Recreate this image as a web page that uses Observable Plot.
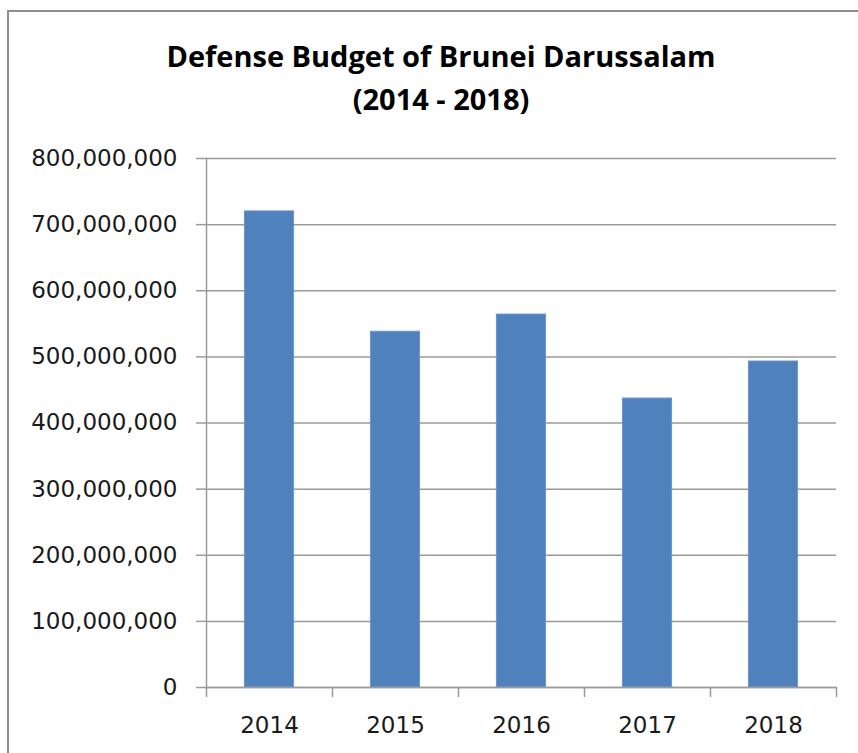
<!DOCTYPE html>
<html>
<head>
<meta charset="utf-8">
<script src="https://cdn.jsdelivr.net/npm/d3@7"></script>
<script src="https://cdn.jsdelivr.net/npm/@observablehq/plot@0.6"></script>
<style>
  html, body { margin: 0; padding: 0; background: #fff; }
  #wrap { position: relative; width: 858px; height: 753px; overflow: hidden; background: #fff; }
  #border { position: absolute; left: 7px; top: 10px; width: 900px; height: 800px; border-left: 2.5px solid #8f8f8f; border-top: 2.5px solid #8f8f8f; box-sizing: border-box; }
  #title { position: absolute; left: 0; top: 34px; width: 882px; text-align: center; font-family: "Open Sans", sans-serif; font-weight: 700; font-size: 29px; line-height: 43px; color: #000; }
  #chart { position: absolute; left: 0; top: 0; }
</style>
</head>
<body>
<div id="wrap">
  <div id="border"></div>
  <div id="chart"></div>
  <div id="title">Defense Budget of Brunei Darussalam<br>(2014 - 2018)</div>
</div>
<script>
const years = ["2014", "2015", "2016", "2017", "2018"];
const budgets = [720000000, 538000000, 564000000, 437000000, 493000000];
const yTicks = [0, 100000000, 200000000, 300000000, 400000000, 500000000, 600000000, 700000000, 800000000];

const data = years.map((year, i) => ({year, value: budgets[i], i}));
const barPad = 0.305;
const gray = "#9a9a9a";

const plot = Plot.plot({
  width: 858,
  height: 753,
  marginLeft: 206,
  marginRight: 22,
  marginTop: 158,
  marginBottom: 66,
  style: { fontFamily: "DejaVu Sans, sans-serif", fontSize: "23px", color: "#1a1a1a", background: "transparent" },
  x: { domain: [0, years.length] },
  y: { domain: [0, 800000000] },
  marks: [
    Plot.gridY(yTicks, { stroke: gray, strokeOpacity: 1, strokeWidth: 1.5 }),
    Plot.rectY(data, { x1: d => d.i + barPad, x2: d => d.i + 1 - barPad, y: "value", fill: "#4F81BD", stroke: "#6b96c9", strokeWidth: 1 }),
    Plot.axisY(yTicks, { tickSize: 10, tickPadding: 19, stroke: gray, strokeWidth: 1.5, strokeOpacity: 1, tickFormat: d3.format(","), label: null, fill: "#1a1a1a" }),
    Plot.frame({ anchor: "left", stroke: gray, strokeWidth: 1.5 }),
    Plot.ruleY([0], { stroke: gray, strokeWidth: 1.5 }),
    Plot.axisX(d3.range(years.length + 1), { tickSize: 10, tickFormat: () => "", stroke: gray, strokeWidth: 1.5, strokeOpacity: 1, label: null }),
    Plot.axisX(data.map(d => d.i + 0.5), { tickSize: 0, tickPadding: 29, tickFormat: t => years[Math.floor(t)], label: null, fill: "#1a1a1a" })
  ]
});
document.getElementById("chart").appendChild(plot);
</script>
</body>
</html>
